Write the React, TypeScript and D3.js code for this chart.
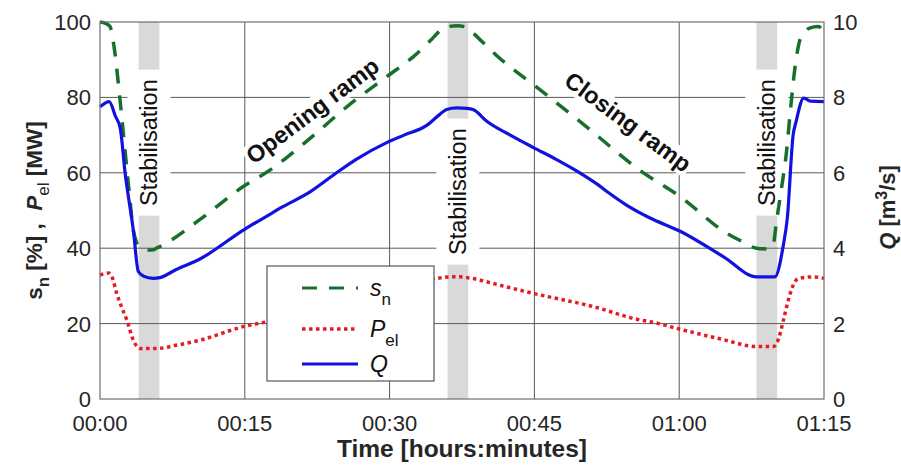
import React, { useRef, useEffect } from 'react';
import * as d3 from 'd3';

// time axis (minutes) and tick labels
const xTicks = [0, 15, 30, 45, 60, 75];
const xTickLabels = ['00:00', '00:15', '00:30', '00:45', '01:00', '01:15'];
const leftTicks = [0, 20, 40, 60, 80, 100];
const rightTicks = [0, 2, 4, 6, 8, 10];

// stabilisation periods (minutes) and label centre (left axis units)
const stabStart = [4, 36, 68];
const stabEnd = [6.15, 38.15, 70.15];
const stabLabelY = [68, 55, 68];

// s_n [%]
const snTime = [0, 0.6, 1.04, 1.3, 1.55, 1.9, 2.25, 2.59, 3.0, 3.45, 3.8, 4.14, 4.7, 5.35, 6.0, 6.9, 10.4, 14.8, 17.6, 21, 26.2, 29.7, 32.5, 34.2, 35.2, 35.9, 37, 38, 38.3, 41.4, 45.6, 50.4, 55.9, 60.1, 64.9, 66.5, 68, 69.2, 69.7, 70.1, 70.6, 71.1, 71.5, 72.0, 72.5, 72.9, 73.5, 74.4, 75];
const snValues = [100, 99.6, 98.8, 96, 91.7, 83.7, 74.9, 66, 55.5, 44.8, 41.5, 40.4, 39.6, 39.5, 40.2, 41.4, 47.7, 56.3, 60.7, 67.5, 78.8, 85.5, 90.9, 95, 97.6, 98.7, 99, 98.6, 97.9, 90.4, 82, 72.2, 60.7, 53.7, 44, 41.8, 40, 39.8, 40.6, 47.5, 56, 65.2, 76, 88, 95.2, 97, 98.4, 98.8, 97.4];

// P_el [MW]
const pelTime = [0, 0.9, 1.3, 1.73, 2.3, 2.77, 3.45, 4.14, 5.87, 8, 10.36, 14.85, 17.3, 21, 26, 30, 34.9, 36.3, 37.3, 38.5, 41.4, 44.9, 51.1, 55.9, 57, 60.4, 64.5, 68, 69.75, 70.3, 70.8, 71.5, 72.1, 72.5, 73.9, 75];
const pelValues = [32.9, 33.4, 32, 28, 24, 21, 15.6, 13.4, 13.4, 14.3, 15.6, 19.2, 20.5, 23.3, 26.6, 29.3, 32, 32.4, 32.4, 32, 30.2, 28, 24.5, 21, 20.5, 18.3, 15.8, 13.9, 13.9, 16, 21, 28, 31.5, 32, 32.4, 32];

// Q [m3/s]
const qTime = [0, 0.95, 1.6, 2.1, 2.6, 3.45, 3.97, 4.5, 5.5, 6.2, 7.8, 10.4, 14.85, 17.6, 18.65, 21.8, 24.5, 26.5, 29.7, 31.5, 33.8, 35.2, 35.9, 37, 38, 38.7, 40.1, 42.5, 44.9, 47.3, 49.7, 51.5, 52.8, 54.5, 56.98, 60.1, 64.6, 68.0, 69.9, 70.8, 71.2, 71.8, 72.1, 72.9, 73.6, 75];
const qValues = [7.75, 7.89, 7.5, 7.18, 6.0, 4.48, 3.38, 3.26, 3.2, 3.22, 3.42, 3.72, 4.48, 4.9, 5.06, 5.5, 6.0, 6.35, 6.8, 7.0, 7.25, 7.55, 7.68, 7.72, 7.71, 7.67, 7.36, 7.0, 6.67, 6.35, 6.0, 5.7, 5.45, 5.15, 4.8, 4.45, 3.77, 3.24, 3.24, 4.1, 4.8, 7.0, 7.35, 7.98, 7.9, 7.89];

const FONT = '"Liberation Sans", Arial, Helvetica, sans-serif';

const Chart = () => {
  const svgRef = useRef<SVGSVGElement>(null);

  useEffect(() => {
    const svg = d3.select(svgRef.current);
    svg.selectAll('*').remove();

    const width = 901;
    const height = 469;
    const margin = { top: 22, right: 77, bottom: 70, left: 100 };

    const x = d3.scaleLinear().domain([0, 75]).range([margin.left, width - margin.right]);
    const yL = d3.scaleLinear().domain([0, 100]).range([height - margin.bottom, margin.top]);
    const yR = d3.scaleLinear().domain([0, 10]).range([height - margin.bottom, margin.top]);

    const g = svg.append('g').style('font-family', FONT);

    // stabilisation bands
    g.selectAll('.band')
      .data(stabStart)
      .enter()
      .append('rect')
      .attr('x', (d) => x(d))
      .attr('y', yL(100))
      .attr('width', (d, i) => x(stabEnd[i]) - x(d))
      .attr('height', yL(0) - yL(100))
      .attr('fill', '#d9d9d9');

    // grid
    g.selectAll('.vgrid')
      .data(xTicks.slice(1, -1))
      .enter()
      .append('line')
      .attr('x1', (d) => x(d)).attr('x2', (d) => x(d))
      .attr('y1', yL(0)).attr('y2', yL(100))
      .attr('stroke', '#5a5a5a').attr('stroke-width', 1);
    g.selectAll('.hgrid')
      .data(leftTicks.slice(1, -1))
      .enter()
      .append('line')
      .attr('x1', x(0)).attr('x2', x(75))
      .attr('y1', (d) => yL(d)).attr('y2', (d) => yL(d))
      .attr('stroke', '#5a5a5a').attr('stroke-width', 1);

    // stabilisation labels with white background
    stabStart.forEach((s, i) => {
      const cx = (x(s) + x(stabEnd[i])) / 2;
      const cy = yL(stabLabelY[i]);
      g.append('rect')
        .attr('x', cx - 21.5).attr('y', cy - 73)
        .attr('width', 43).attr('height', 146)
        .attr('fill', 'white');
      g.append('text')
        .attr('transform', `translate(${cx},${cy}) rotate(-90)`)
        .attr('text-anchor', 'middle')
        .attr('dy', '0.35em')
        .style('font-size', '23.5px')
        .style('fill', '#111')
        .text('Stabilisation');
    });

    // ramp labels
    const ramp = [
      { t: 22, v: 76.5, a: -37, label: 'Opening ramp' },
      { t: 54.7, v: 73.5, a: 36.5, label: 'Closing ramp' },
    ];
    ramp.forEach((r) => {
      const gg = g.append('g').attr('transform', `translate(${x(r.t)},${yL(r.v)}) rotate(${r.a})`);
      const txt = gg.append('text')
        .attr('text-anchor', 'middle')
        .attr('dy', '0.35em')
        .style('font-size', '23.5px')
        .style('font-weight', 'bold')
        .style('fill', '#111')
        .text(r.label);
      const bb = (txt.node() as SVGTextElement).getBBox();
      gg.insert('rect', 'text')
        .attr('x', bb.x - 2).attr('y', bb.y + 1)
        .attr('width', bb.width + 4).attr('height', bb.height - 2)
        .attr('fill', 'white');
    });

    // series
    const snLine = d3.line<number>()
      .x((d, i) => x(snTime[i]))
      .y((d) => yL(d))
      .curve(d3.curveMonotoneX);
    const pelLine = d3.line<number>()
      .x((d, i) => x(pelTime[i]))
      .y((d) => yL(d))
      .curve(d3.curveMonotoneX);
    const qLine = d3.line<number>()
      .x((d, i) => x(qTime[i]))
      .y((d) => yR(d))
      .curve(d3.curveMonotoneX);

    g.append('path').attr('d', pelLine(pelValues))
      .attr('fill', 'none').attr('stroke', '#e51b23')
      .attr('stroke-width', 3.5).attr('stroke-dasharray', '3.5,3.5');
    g.append('path').attr('d', snLine(snValues))
      .attr('fill', 'none').attr('stroke', '#176f2c')
      .attr('stroke-width', 3.5).attr('stroke-dasharray', '15,12');
    g.append('path').attr('d', qLine(qValues))
      .attr('fill', 'none').attr('stroke', '#1212e0')
      .attr('stroke-width', 3.2).attr('stroke-linejoin', 'round');

    // frame
    g.append('rect')
      .attr('x', x(0)).attr('y', yL(100))
      .attr('width', x(75) - x(0)).attr('height', yL(0) - yL(100))
      .attr('fill', 'none').attr('stroke', '#6e6e6e').attr('stroke-width', 1.2);

    // ticks
    g.selectAll('.xt')
      .data(xTicks)
      .enter()
      .append('text')
      .attr('x', (d) => x(d))
      .attr('y', 431)
      .attr('text-anchor', 'middle')
      .style('font-size', '22px')
      .style('fill', '#262626')
      .text((d, i) => xTickLabels[i]);
    g.selectAll('.yl')
      .data(leftTicks)
      .enter()
      .append('text')
      .attr('x', x(0) - 9)
      .attr('y', (d) => yL(d))
      .attr('dy', '0.36em')
      .attr('text-anchor', 'end')
      .style('font-size', '22px')
      .style('fill', '#262626')
      .text((d) => d);
    g.selectAll('.yr')
      .data(rightTicks)
      .enter()
      .append('text')
      .attr('x', x(75) + 9)
      .attr('y', (d) => yR(d))
      .attr('dy', '0.36em')
      .attr('text-anchor', 'start')
      .style('font-size', '22px')
      .style('fill', '#262626')
      .text((d) => d);

    // axis titles
    g.append('text')
      .attr('x', (x(0) + x(75)) / 2)
      .attr('y', 457)
      .attr('text-anchor', 'middle')
      .style('font-size', '24.5px')
      .style('font-weight', 'bold')
      .style('fill', '#262626')
      .text('Time [hours:minutes]');

    const lt = g.append('text')
      .attr('transform', `translate(42,${(yL(0) + yL(100)) / 2}) rotate(-90)`)
      .attr('text-anchor', 'middle')
      .style('font-size', '22.5px')
      .style('font-weight', 'bold')
      .style('fill', '#262626');
    lt.append('tspan').text('s');
    lt.append('tspan').attr('dy', 7).style('font-size', '17px').text('n');
    lt.append('tspan').attr('dy', -7).text('\u00a0[%]\u00a0,\u00a0\u00a0');
    lt.append('tspan').style('font-style', 'italic').text('P');
    lt.append('tspan').attr('dy', 7).style('font-size', '17px').style('font-weight', 'normal').text('el');
    lt.append('tspan').attr('dy', -7).text('\u00a0[MW]');

    const rt = g.append('text')
      .attr('transform', `translate(895,${(yR(0) + yR(10)) / 2 - 3}) rotate(-90)`)
      .attr('text-anchor', 'middle')
      .style('font-size', '22px')
      .style('font-weight', 'bold')
      .style('fill', '#262626');
    rt.append('tspan').style('font-style', 'italic').text('Q');
    rt.append('tspan').text('\u00a0[m');
    rt.append('tspan').attr('dy', -8).style('font-size', '16px').text('3');
    rt.append('tspan').attr('dy', 8).text('/s]');

    // legend
    const lg = g.append('g').attr('transform', 'translate(267,266)');
    lg.append('rect')
      .attr('width', 167).attr('height', 115)
      .attr('fill', 'white').attr('stroke', '#555').attr('stroke-width', 1.2);
    const entries = [
      { stroke: '#176f2c', dash: '15,12', main: 's', sub: 'n', y: 22 },
      { stroke: '#e51b23', dash: '3.5,3.5', main: 'P', sub: 'el', y: 63 },
      { stroke: '#1212e0', dash: null, main: 'Q', sub: '', y: 98 },
    ];
    entries.forEach((e) => {
      lg.append('line')
        .attr('x1', 35).attr('x2', 91)
        .attr('y1', e.y).attr('y2', e.y)
        .attr('stroke', e.stroke)
        .attr('stroke-width', e.dash === '3.5,3.5' ? 3.5 : 3.2)
        .attr('stroke-dasharray', e.dash);
      const t = lg.append('text')
        .attr('x', 103).attr('y', e.y)
        .attr('dy', '0.36em')
        .style('font-size', '23px')
        .style('fill', '#111');
      t.append('tspan').style('font-style', 'italic').text(e.main);
      if (e.sub) t.append('tspan').attr('dy', 9).style('font-size', '17px').text(e.sub);
    });
  }, []);

  return (
    <svg
      ref={svgRef}
      width={901}
      height={469}
      style={{ position: 'absolute', left: 0, top: 0, background: 'white' }}
    />
  );
};

export default function App() {
  return <Chart />;
}
